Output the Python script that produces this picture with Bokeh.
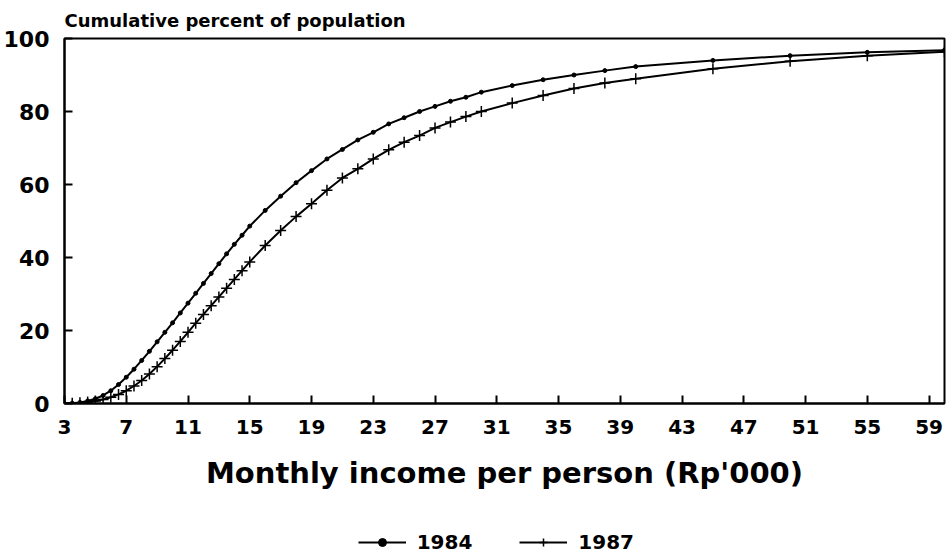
from bokeh.plotting import figure
from bokeh.models import Range1d, Legend, LegendItem, FixedTicker
from bokeh.layouts import column
from bokeh.embed import file_html
from bokeh.resources import INLINE

# Monthly income per person (Rp'000)
income = [3, 3.5, 4, 4.5, 5, 5.5, 6, 6.5, 7, 7.5, 8, 8.5, 9, 9.5, 10, 10.5,
          11, 11.5, 12, 12.5, 13, 13.5, 14, 14.5, 15,
          16, 17, 18, 19, 20, 21, 22, 23, 24, 25, 26, 27, 28, 29, 30,
          32, 34, 36, 38, 40, 45, 50, 55, 60]

cum_1984 = [0, 0.1, 0.3, 0.7, 1.3, 2.2, 3.5, 5.2, 7.2, 9.4, 11.8, 14.3, 16.9, 19.5, 22.1, 24.8,
            27.5, 30.2, 32.9, 35.6, 38.3, 41.0, 43.6, 46.1, 48.6,
            52.9, 56.8, 60.5, 63.8, 67.0, 69.6, 72.2, 74.3, 76.6, 78.3, 80.0, 81.4, 82.8, 83.9, 85.3,
            87.1, 88.7, 90.0, 91.2, 92.3, 94.0, 95.3, 96.2, 96.8]

cum_1987 = [0, 0.1, 0.2, 0.4, 0.7, 1.1, 1.7, 2.5, 3.5, 4.8, 6.3, 8.1, 10.1, 12.3, 14.6, 17.0,
            19.5, 22.0, 24.4, 26.8, 29.2, 31.6, 34.0, 36.4, 38.8,
            43.3, 47.4, 51.2, 54.7, 58.4, 61.8, 64.3, 67.0, 69.5, 71.6, 73.4, 75.5, 77.1, 78.6, 80.0,
            82.3, 84.4, 86.3, 87.8, 89.0, 91.7, 93.8, 95.3, 96.4]

series_labels = ["1984", "1987"]
x_ticks = [3, 7, 11, 15, 19, 23, 27, 31, 35, 39, 43, 47, 51, 55, 59]
y_ticks = [0, 20, 40, 60, 80, 100]

FONT = "DejaVu Sans"
LEFT, RIGHT, FW = 60, 2, 880

p = figure(frame_width=FW, frame_height=365, output_backend="svg", toolbar_location=None,
           x_range=Range1d(3, 60), y_range=Range1d(0, 100),
           min_border_left=LEFT, min_border_right=RIGHT, min_border_top=37, min_border_bottom=127,
           title="Cumulative percent of population")

p.title.align = "left"
p.title.text_font = FONT
p.title.text_font_size = "18px"
p.title.text_font_style = "bold"
p.title.text_color = "black"
p.title.offset = 0
p.title.standoff = 15

p.xgrid.visible = False
p.ygrid.visible = False
p.outline_line_color = "black"
p.outline_line_width = 2
p.background_fill_color = "white"
p.border_fill_color = "white"

for ax in (p.xaxis[0], p.yaxis[0]):
    ax.axis_line_width = 2
    ax.axis_line_color = "black"
    ax.major_tick_in = 8
    ax.major_tick_out = 0
    ax.major_tick_line_width = 2
    ax.minor_tick_in = 0
    ax.minor_tick_out = 0
    ax.major_label_text_font = FONT
    ax.major_label_text_font_style = "bold"
    ax.major_label_text_color = "black"

p.xaxis.ticker = FixedTicker(ticks=x_ticks)
p.yaxis.ticker = FixedTicker(ticks=y_ticks)
p.xaxis.major_label_text_font_size = "20px"
p.yaxis.major_label_text_font_size = "22px"
p.xaxis.major_label_standoff = 16
p.yaxis.major_label_standoff = 15

p.xaxis.axis_label = "Monthly income per person (Rp'000)"
p.xaxis.axis_label_text_font = FONT
p.xaxis.axis_label_text_font_size = "29px"
p.xaxis.axis_label_text_font_style = "bold"
p.xaxis.axis_label_text_color = "black"
p.xaxis.axis_label_standoff = 19

p.line(income, cum_1984, line_color="black", line_width=2)
p.scatter(income, cum_1984, marker="circle", size=4, fill_color="black", line_color="black")
p.line(income, cum_1987, line_color="black", line_width=2)
p.scatter(income, cum_1987, marker="cross", size=11, line_color="black", line_width=1.5)

# legend strip below the chart (same series drawn outside this strip's range, so only the key shows)
q = figure(frame_width=FW, frame_height=24, output_backend="svg", toolbar_location=None,
           x_range=Range1d(-2, -1), y_range=Range1d(-2, -1),
           min_border_left=LEFT, min_border_right=RIGHT, min_border_top=0, min_border_bottom=0)
q.axis.visible = False
q.xgrid.visible = False
q.ygrid.visible = False
q.outline_line_color = None
q.border_fill_color = "white"
ql84 = q.line(income, cum_1984, line_color="black", line_width=2)
qs84 = q.scatter(income, cum_1984, marker="circle", size=4, fill_color="black", line_color="black")
ql87 = q.line(income, cum_1987, line_color="black", line_width=2)
qs87 = q.scatter(income, cum_1987, marker="cross", size=11, line_color="black", line_width=1.5)

legend = Legend(items=[LegendItem(label=series_labels[0], renderers=[ql84, qs84]),
                       LegendItem(label=series_labels[1], renderers=[ql87, qs87])],
                orientation="horizontal", location=(337, 0),
                label_text_font=FONT, label_text_font_size="20px", label_text_font_style="bold",
                label_text_color="black",
                glyph_width=48, glyph_height=20, label_height=20, label_standoff=11, spacing=47,
                border_line_color=None, background_fill_alpha=0,
                margin=0, padding=0)
q.add_layout(legend, "center")

layout = column(p, q, spacing=0)
open("out.html", "w").write(file_html(layout, INLINE))
